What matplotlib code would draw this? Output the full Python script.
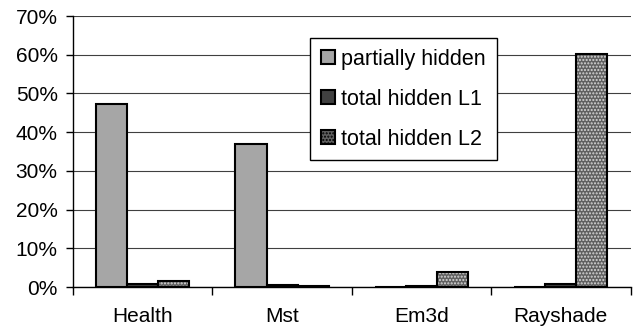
import numpy as np
import matplotlib.pyplot as plt
from matplotlib.patches import Patch
from matplotlib.ticker import MultipleLocator, FuncFormatter

plt.rcParams['font.family'] = ['Liberation Sans', 'DejaVu Sans']

benchmarks = ['Health', 'Mst', 'Em3d', 'Rayshade']
partially_hidden = [47.4, 36.9, 0.0, 0.0]
total_hidden_l1 = [0.7, 0.5, 0.3, 0.8]
total_hidden_l2 = [1.5, 0.3, 4.0, 60.3]

fig = plt.figure(figsize=(6.35, 3.27), dpi=100)
ax = fig.add_axes([0.115, 0.122, 0.878, 0.829])

x = np.arange(len(benchmarks))
w = 0.223

ax.bar(x - w, partially_hidden, w, color='#a6a6a6', edgecolor='black', linewidth=1.5, zorder=3)
ax.bar(x, total_hidden_l1, w, color='#404040', edgecolor='black', linewidth=1.5, zorder=3)
# checkered fill for L2: dotted hatch on grey, outline drawn on top
plt.rcParams['hatch.linewidth'] = 1.0
ax.bar(x + w, total_hidden_l2, w, color='#606060', edgecolor='#d8d8d8', hatch='.....', linewidth=0, zorder=3)
ax.bar(x + w, total_hidden_l2, w, fill=False, edgecolor='black', linewidth=1.5, zorder=4)

ax.set_xlim(-0.5, len(benchmarks) - 0.5)
ax.set_ylim(0, 70)
ax.yaxis.set_major_locator(MultipleLocator(10))
ax.yaxis.set_major_formatter(FuncFormatter(lambda v, p: f'{v:.0f}%'))
ax.yaxis.grid(True, color='#404040', linewidth=0.8, zorder=0)

ax.set_xticks(x)
ax.set_xticklabels(benchmarks)
ax.set_xticks(np.arange(len(benchmarks) + 1) - 0.5, minor=True)
ax.tick_params(axis='x', which='major', length=0, pad=14, labelsize=15)
ax.tick_params(axis='x', which='minor', length=6, width=1, direction='out')
ax.tick_params(axis='y', length=5, width=1, direction='out', labelsize=15, pad=6)

for s in ['top', 'right']:
    ax.spines[s].set_visible(False)
ax.spines['left'].set_linewidth(1)
ax.spines['bottom'].set_linewidth(1)

handles = [
    Patch(facecolor='#a6a6a6', edgecolor='black', linewidth=1.5),
    Patch(facecolor='#404040', edgecolor='black', linewidth=1.5),
    Patch(facecolor='#606060', edgecolor='black', hatch='.....', linewidth=1.5),
]
leg = ax.legend(handles, ['partially hidden', 'total hidden L1', 'total hidden L2'],
                loc='upper left', bbox_to_anchor=(310 / 635, 1 - 38 / 327),
                bbox_transform=fig.transFigure, fontsize=15.5, frameon=True,
                fancybox=False, edgecolor='black', framealpha=1,
                handlelength=0.65, handleheight=0.65, handletextpad=0.3,
                labelspacing=0.88, borderpad=0.5, borderaxespad=0)
leg.get_frame().set_linewidth(1)
leg.set_zorder(5)

fig.savefig('out.png', dpi=100)
